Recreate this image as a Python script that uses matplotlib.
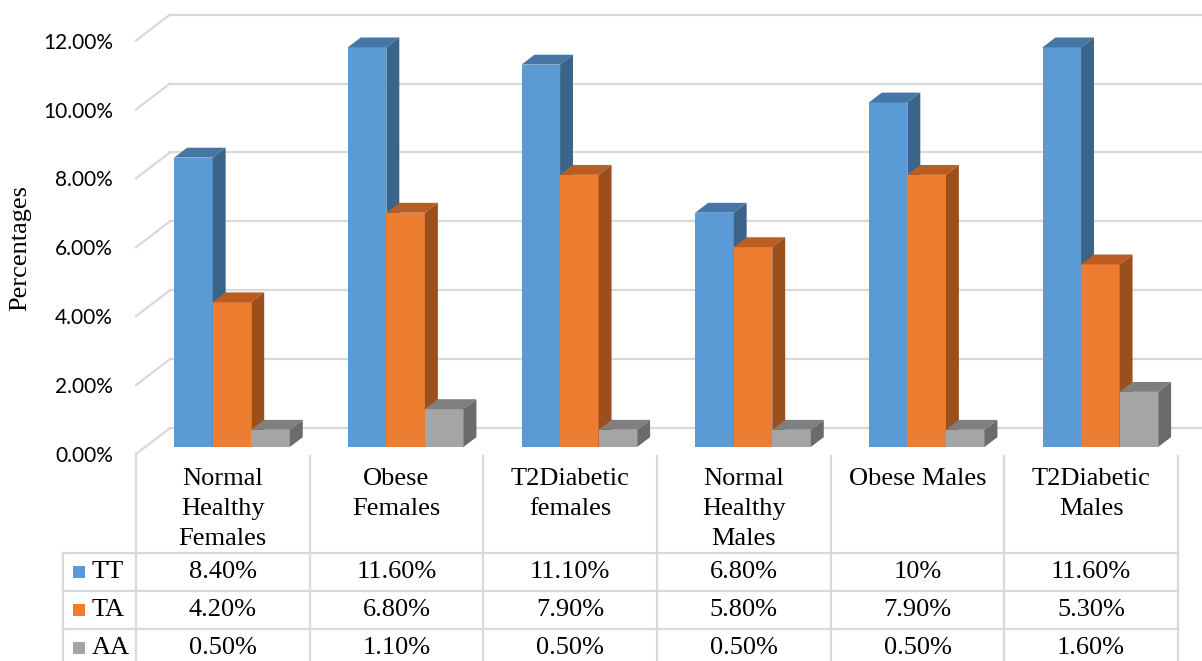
import numpy as np
import matplotlib.pyplot as plt
from matplotlib.patches import Polygon

# Genotype frequencies per group (percent)
categories = ['Normal\nHealthy\nFemales', 'Obese\nFemales', 'T2Diabetic\nfemales',
              'Normal\nHealthy\nMales', 'Obese Males', 'T2Diabetic\nMales']
series = ['TT', 'TA', 'AA']
tt = [8.4, 11.6, 11.1, 6.8, 10.0, 11.6]
ta = [4.2, 6.8, 7.9, 5.8, 7.9, 5.3]
aa = [0.5, 1.1, 0.5, 0.5, 0.5, 1.6]
tt_text = ['8.40%', '11.60%', '11.10%', '6.80%', '10%', '11.60%']
ta_text = ['4.20%', '6.80%', '7.90%', '5.80%', '7.90%', '5.30%']
aa_text = ['0.50%', '1.10%', '0.50%', '0.50%', '0.50%', '1.60%']
yticks = [0, 2, 4, 6, 8, 10, 12]

values = [tt, ta, aa]
cell_text = [tt_text, ta_text, aa_text]

# front / top / side shades for the 3-D columns
front = ['#5B9BD5', '#ED7D31', '#A5A5A5']
top = ['#4676A6', '#BB5C20', '#7F7F7F']
side = ['#3B648B', '#9B4F1C', '#6B6B6B']
grid_c = '#D9D9D9'

serif = 'Liberation Serif'

W, H = 1202, 661
fig = plt.figure(figsize=(W / 100, H / 100), dpi=100)

# plot area: x in category units, y in percent
ax = fig.add_axes([136 / W, (H - 454) / H, 1042 / W, 454 / H])
ax.set_xlim(-0.5, 5.5)
ax.set_ylim(0, 454 / 34.45)
for s in ax.spines.values():
    s.set_visible(False)
ax.set_xticks([])
ax.set_yticks(yticks)
ax.set_yticklabels(['{:.2f}%'.format(v) for v in yticks], family='Lato', fontsize=15)
ax.tick_params(axis='y', length=0, pad=16.5)

# depth direction of the pseudo 3-D box
DX = 34 / 173.67
DY = 26 / 34.45

# floor/back-wall gridlines
for v in yticks:
    ax.plot([-0.5, -0.5 + DX], [v, v + DY], color=grid_c, lw=1.6, clip_on=False, zorder=1)
    ax.plot([-0.5 + DX, 5.8], [v + DY, v + DY], color=grid_c, lw=1.6, clip_on=False, zorder=1)

# columns
x = np.arange(len(categories))
w = 0.222
d0, d1 = 0.27, 0.65
for j, vals in enumerate(values):
    xc = x + (j - 1) * w
    ax.bar(xc + d0 * DX, vals, width=w, bottom=d0 * DY, color=front[j],
           linewidth=0, zorder=3 + j)
    for xi, v in zip(xc, vals):
        xl, xr = xi - w / 2, xi + w / 2
        ax.add_patch(Polygon([(xl + d0 * DX, v + d0 * DY), (xr + d0 * DX, v + d0 * DY),
                              (xr + d1 * DX, v + d1 * DY), (xl + d1 * DX, v + d1 * DY)],
                             closed=True, facecolor=top[j], linewidth=0, zorder=3 + j))
        ax.add_patch(Polygon([(xr + d0 * DX, d0 * DY), (xr + d0 * DX, v + d0 * DY),
                              (xr + d1 * DX, v + d1 * DY), (xr + d1 * DX, d1 * DY)],
                             closed=True, facecolor=side[j], linewidth=0, zorder=3 + j))

fig.text(20 / W, 1 - 248 / H, 'Percentages', rotation=90, ha='center', va='center',
         family=serif, fontsize=19)

# data table below the plot, rows in units of one value row
tax = fig.add_axes([136 / W, 0, 1042 / W, 207 / H])
tax.set_xlim(-0.5, 5.5)
bottom = 207 / 38
tax.set_ylim(bottom, 0)
tax.axis('off')

header_h = 2.6
leg_left = -0.5 - 73 / 173.67

for k in range(len(categories) + 1):
    tax.plot([k - 0.5, k - 0.5], [0 if k == 0 else 0.05, bottom], color=grid_c, lw=1.6,
             clip_on=False)
tax.plot([leg_left, leg_left], [header_h, bottom], color=grid_c, lw=1.6, clip_on=False)
for r in range(len(series)):
    tax.plot([leg_left, 5.5], [header_h + r, header_h + r], color=grid_c, lw=1.6,
             clip_on=False)

for i, cat in enumerate(categories):
    tax.text(i, 0.36, cat, ha='center', va='top', family=serif, fontsize=19,
             linespacing=1.47)

for r, name in enumerate(series):
    yc = header_h + r + 0.5
    tax.scatter([leg_left + 15.5 / 173.67], [yc], marker='s', s=85, color=front[r],
                linewidths=0, clip_on=False)
    tax.text(leg_left + 29 / 173.67, yc, name, ha='left', va='center', family=serif,
             fontsize=19)
    for i, t in enumerate(cell_text[r]):
        tax.text(i, yc, t, ha='center', va='center', family=serif, fontsize=19)

fig.savefig('out.png', dpi=100)
